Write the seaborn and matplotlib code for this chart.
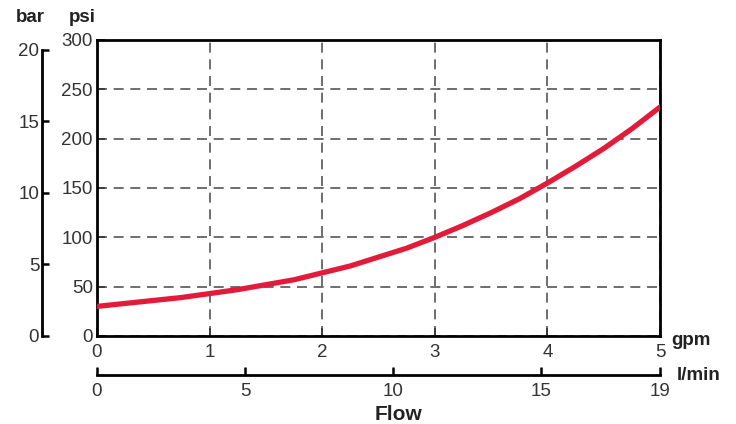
"""
Pressure drop vs flow chart (psi / bar against gpm / l/min)
"""

import matplotlib
matplotlib.use('Agg')
import matplotlib.pyplot as plt
import seaborn as sns
import pandas as pd

# Data
flow_gpm = [0, 0.25, 0.5, 0.75, 1, 1.25, 1.5, 1.75, 2, 2.25, 2.5, 2.75,
            3, 3.25, 3.5, 3.75, 4, 4.25, 4.5, 4.75, 5]
pressure_psi = [30, 33, 36, 39, 43, 47, 52, 57, 64, 71, 80, 89,
                100, 112, 125, 139, 155, 172, 190, 210, 232]

psi_ticks = [0, 50, 100, 150, 200, 250, 300]
gpm_ticks = [0, 1, 2, 3, 4, 5]
bar_ticks = [0, 5, 10, 15, 20]
lmin_ticks = [0, 5, 10, 15, 19]

PSI_PER_BAR = 14.5

sns.set_theme(style='white')
plt.rcParams['font.family'] = ['Liberation Sans', 'DejaVu Sans']

df = pd.DataFrame({'gpm': flow_gpm, 'psi': pressure_psi})

fig = plt.figure(figsize=(7.36, 4.24), dpi=100)
W, H = 736, 424
x0, x1 = 97, 660
ytop, ybot = 40, 336
FS = 13.5
TC = '#333333'

ax = fig.add_axes([x0 / W, 1 - ybot / H, (x1 - x0) / W, (ybot - ytop) / H])
sns.lineplot(data=df, x='gpm', y='psi', ax=ax, color='#e31b3b', linewidth=3.8, zorder=3)

ax.set_xlim(0, 5)
ax.set_ylim(0, 300)
ax.set_xticks(gpm_ticks)
ax.set_yticks(psi_ticks)
ax.set_xlabel('')
ax.set_ylabel('')
ax.grid(True, color='#555555', linestyle=(0, (6, 4)), linewidth=1.2)
for s in ax.spines.values():
    s.set_color('black')
    s.set_linewidth(2)
ax.tick_params(left=True, bottom=True, direction='in', length=6, width=1.2, color='#333333',
               labelsize=FS, labelcolor=TC)
ax.tick_params(axis='x', pad=6)
ax.tick_params(axis='y', pad=3)
ax.text(1.02, -0.015, 'gpm', transform=ax.transAxes, fontsize=FS, fontweight='bold',
        color='#222222', ha='left', va='center')
fig.text(82 / W, 1 - 18 / H, 'psi', fontsize=FS, fontweight='bold', color='#222222',
         ha='center', va='center')

# bar axis on the far left
bx = 42
axb = fig.add_axes([bx / W, 1 - ybot / H, 0.001, (ybot - ytop) / H])
axb.set_ylim(0, 300 / PSI_PER_BAR)
axb.set_yticks(bar_ticks)
axb.set_xticks([])
for k, s in axb.spines.items():
    s.set_visible(k == 'left')
axb.spines['left'].set_linewidth(2)
axb.spines['left'].set_color('black')
axb.spines['left'].set_bounds(0, 20)
axb.patch.set_alpha(0)
axb.tick_params(axis='y', left=True, direction='in', length=5, width=1.8, color='black',
                labelsize=FS, labelcolor=TC, pad=2)
fig.text(30 / W, 1 - 18 / H, 'bar', fontsize=FS, fontweight='bold', color='#222222',
         ha='center', va='center')

# l/min axis below
ly = 375
axl = fig.add_axes([x0 / W, 1 - ly / H, (x1 - x0) / W, 0.001])
axl.set_xlim(0, 19)
axl.set_xticks(lmin_ticks)
axl.set_yticks([])
for k, s in axl.spines.items():
    s.set_visible(k == 'bottom')
axl.spines['bottom'].set_linewidth(2)
axl.spines['bottom'].set_color('black')
axl.patch.set_alpha(0)
axl.tick_params(axis='x', bottom=True, direction='in', length=6, width=1.8, color='black',
                labelsize=FS, labelcolor=TC, pad=6)
axl.text(1.03, 0.0, 'l/min', transform=axl.transAxes, fontsize=FS, fontweight='bold',
         color='#222222', ha='left', va='center')

fig.text(398 / W, 1 - 414 / H, 'Flow', fontsize=15, fontweight='bold', color='#222222',
         ha='center', va='center')

fig.savefig('out.png', dpi=100)
